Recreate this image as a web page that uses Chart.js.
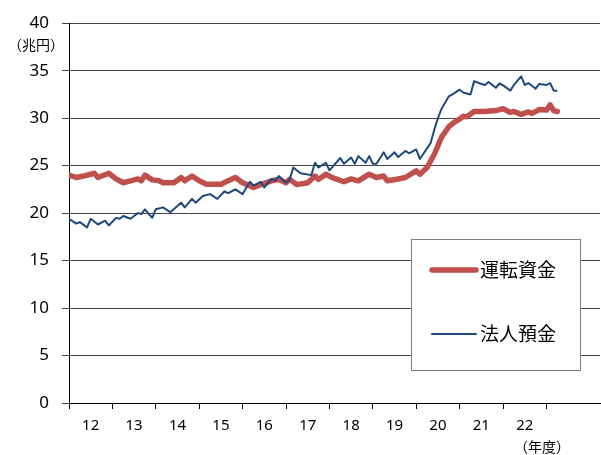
<!DOCTYPE html>
<html>
<head>
<meta charset="utf-8">
<script src="https://cdn.jsdelivr.net/npm/chart.js@4"></script>
<style>
  html, body { margin: 0; padding: 0; background: #fff; }
  #wrap { width: 601px; height: 455px; }
</style>
</head>
<body>
<div id="wrap"><canvas id="myChart" width="601" height="455"></canvas></div>
<script>
// Fiscal years shown under the axis (one label per 12 months)
const yearLabels = ['12', '13', '14', '15', '16', '17', '18', '19', '20', '21', '22'];

// Months counted from the start of FY12 (vertices)
const loanMonths = [0, 2, 4, 7, 8, 11, 13, 15, 17, 19, 20, 21, 23, 25, 26, 29, 31, 32, 34, 36, 38, 42, 44, 46, 48, 51, 53, 56, 58, 60, 61, 63, 66, 68, 69, 71, 73, 76, 78, 80, 83, 85, 87, 88, 91, 93, 96, 97, 99, 101, 103, 105, 107, 108, 109, 110, 112, 115, 118, 120, 122, 123, 125, 127, 128, 130, 132, 133, 134, 135];
const loanValues = [24.0, 23.75, 23.9, 24.2, 23.75, 24.2, 23.6, 23.2, 23.4, 23.6, 23.4, 24.0, 23.5, 23.4, 23.2, 23.2, 23.75, 23.4, 23.9, 23.4, 23.05, 23.05, 23.4, 23.75, 23.2, 22.7, 23.0, 23.4, 23.55, 23.2, 23.55, 23.0, 23.2, 23.9, 23.55, 24.1, 23.7, 23.3, 23.6, 23.4, 24.1, 23.75, 23.9, 23.4, 23.6, 23.75, 24.45, 24.1, 24.8, 26.2, 28.0, 29.1, 29.7, 29.9, 30.2, 30.15, 30.7, 30.7, 30.8, 31.0, 30.6, 30.7, 30.4, 30.65, 30.5, 30.9, 30.85, 31.4, 30.8, 30.7];

const depositMonths = [0, 2, 3, 5, 6, 8, 10, 11, 13, 14, 15, 17, 19, 20, 21, 23, 24, 26, 28, 31, 32, 34, 35, 37, 39, 41, 43, 44, 46, 48, 50, 51, 53, 54, 56, 57, 58, 60, 61, 62, 64, 67, 68, 69, 71, 72, 75, 76, 78, 79, 80, 82, 83, 84, 85, 87, 88, 90, 91, 93, 94, 96, 97, 100, 101, 102, 103, 105, 106, 108, 109, 111, 112, 114, 115, 116, 118, 119, 120, 122, 123, 125, 126, 127, 129, 130, 132, 133, 134, 135];
const depositValues = [19.4, 18.9, 19.05, 18.5, 19.4, 18.8, 19.2, 18.7, 19.5, 19.4, 19.7, 19.4, 20.0, 19.9, 20.4, 19.5, 20.4, 20.6, 20.1, 21.1, 20.6, 21.5, 21.1, 21.8, 22.0, 21.5, 22.3, 22.1, 22.5, 22.0, 23.3, 22.9, 23.3, 22.7, 23.6, 23.4, 23.9, 23.2, 23.5, 24.8, 24.2, 24.0, 25.3, 24.8, 25.3, 24.5, 25.8, 25.2, 25.85, 25.2, 26.0, 25.3, 26.0, 25.2, 25.2, 26.4, 25.7, 26.4, 25.9, 26.55, 26.3, 26.7, 25.7, 27.4, 28.8, 30.0, 31.0, 32.3, 32.5, 33.0, 32.7, 32.5, 33.9, 33.6, 33.5, 33.8, 33.2, 33.65, 33.45, 32.9, 33.5, 34.4, 33.5, 33.7, 33.1, 33.6, 33.5, 33.7, 32.9, 32.85];

const yTicks = [0, 5, 10, 15, 20, 25, 30, 35, 40];

const toPoints = (xs, ys) => xs.map((x, i) => ({ x: x, y: ys[i] }));

const numFont = "'Noto Sans', 'DejaVu Sans', sans-serif";
const jpFont = "'Noto Sans CJK JP', 'Noto Sans', sans-serif";

// Legend box and unit labels
const overlay = {
    id: 'overlay',
    afterDraw(chart) {
        const ctx = chart.ctx;
        ctx.save();
        // legend frame
        ctx.fillStyle = '#fff';
        ctx.fillRect(411, 239, 169, 131);
        ctx.strokeStyle = '#7f7f7f';
        ctx.lineWidth = 1;
        ctx.strokeRect(411.5, 239.5, 169, 131);

        const rows = [270, 334];
        chart.data.datasets.forEach((ds, i) => {
            const y = rows[i];
            ctx.strokeStyle = ds.borderColor;
            ctx.lineWidth = ds.borderWidth;
            ctx.lineCap = 'round';
            ctx.beginPath();
            ctx.moveTo(432, y);
            ctx.lineTo(476, y);
            ctx.stroke();
            ctx.fillStyle = '#000';
            ctx.font = '19px ' + jpFont;
            ctx.textAlign = 'left';
            ctx.textBaseline = 'middle';
            ctx.fillText(ds.label, 480, y);
        });

        ctx.font = '14px ' + jpFont;
        ctx.textAlign = 'center';
        ctx.textBaseline = 'middle';
        ctx.fillText('（兆円）', 36, 45);
        ctx.fillText('（年度）', 542, 447);
        ctx.restore();
    }
};

const ctx = document.getElementById('myChart').getContext('2d');
new Chart(ctx, {
    type: 'line',
    data: {
        datasets: [
            {
                label: '運転資金',
                data: toPoints(loanMonths, loanValues),
                borderColor: '#C0504D',
                borderWidth: 5.5,
                pointRadius: 0,
                tension: 0,
                borderJoinStyle: 'round',
                borderCapStyle: 'round',
                order: 2
            },
            {
                label: '法人預金',
                data: toPoints(depositMonths, depositValues),
                borderColor: '#1F497D',
                borderWidth: 2,
                pointRadius: 0,
                tension: 0,
                borderJoinStyle: 'round',
                order: 1
            }
        ]
    },
    options: {
        responsive: false,
        animation: false,
        devicePixelRatio: 1,
        layout: { padding: { top: 20, right: 1, left: 0, bottom: 0 } },
        plugins: {
            legend: { display: false },
            tooltip: { enabled: false }
        },
        scales: {
            x: {
                type: 'linear',
                min: 0,
                max: 146.8,
                afterBuildTicks: (axis) => {
                    const t = [];
                    for (let v = 0; v <= 132; v += 6) t.push({ value: v });
                    axis.ticks = t;
                },
                afterFit: (scale) => { scale.height = 52; },
                grid: {
                    drawOnChartArea: false,
                    drawTicks: true,
                    tickLength: 6,
                    color: (c) => (c.tick && c.tick.value % 12 === 0) ? '#000' : 'rgba(0,0,0,0)'
                },
                border: { color: '#000', width: 1 },
                ticks: {
                    autoSkip: false,
                    maxRotation: 0,
                    padding: 8,
                    color: '#000',
                    font: { size: 15, family: numFont },
                    callback: (v) => (v % 12 === 6) ? yearLabels[(v - 6) / 12] : ''
                }
            },
            y: {
                min: 0,
                max: 40,
                afterBuildTicks: (axis) => { axis.ticks = yTicks.map(v => ({ value: v })); },
                afterFit: (scale) => { scale.width = 69; },
                grid: { color: '#444', lineWidth: 1, tickLength: 7 },
                border: { color: '#000', width: 1 },
                ticks: {
                    padding: 13,
                    color: '#000',
                    font: { size: 17, family: numFont }
                }
            }
        }
    },
    plugins: [overlay]
});
</script>
</body>
</html>
